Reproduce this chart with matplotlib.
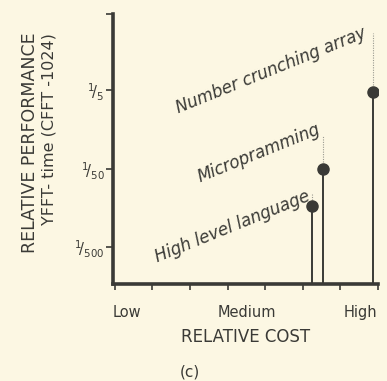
import numpy as np
import matplotlib
matplotlib.use("Agg")
import matplotlib.pyplot as plt

plt.rcParams['font.family'] = ['DejaVu Sans']
plt.rcParams['mathtext.fontset'] = 'dejavusans'

# approaches, position on the cost scale and relative FFT performance
approaches = ['High level language', 'Micropramming', 'Number crunching array']
cost = [5.25, 5.54, 6.87]
performance = [0.0066, 0.02, 0.19]

# where each approach is written (cost, performance) and top of its dotted leader
label_cost = [1.14, 2.26, 1.68]
label_perf = [0.00129, 0.0133, 0.102]
leader_top = [0.0097, 0.0526, 1.06]

perf_ticks = [1 / 500, 1 / 50, 1 / 5]
perf_ticklabels = [r'$^{1}\!/_{500}$', r'$^{1}\!/_{50}$', r'$^{1}\!/_{5}$']
cost_labels = ['Low', 'Medium', 'High']
cost_label_pos = [0.32, 3.5, 6.54]

bg = '#fcf7e3'
ink = '#3a3a36'

fig = plt.figure(figsize=(3.87, 3.81), dpi=100, facecolor=bg)
ax = fig.add_axes([0.292, 0.2546, 0.685, 0.7084], facecolor=bg)

ax.set_yscale('log')
ymin, ymax = 6.76e-4, 1.86
ax.set_ylim(ymin, ymax)
ax.set_xlim(-0.05, 7)

# stems and dots
ax.vlines(cost, ymin, performance, color=ink, linewidth=1.4, zorder=2)
ax.plot(cost, performance, 'o', color=ink, markersize=8, zorder=3)

# dotted leaders from label to dot
for c, p, t in zip(cost, performance, leader_top):
    ax.vlines(c, p * 1.22, t, color='#9a9a90', linewidth=0.8,
              linestyles=(0, (1, 1.2)), zorder=1)

for name, lc, lp in zip(approaches, label_cost, label_perf):
    ax.text(lc, lp, name, rotation=22, rotation_mode='anchor', ha='left',
            va='baseline', style='italic', fontsize=12, color=ink)

for side in ['top', 'right']:
    ax.spines[side].set_visible(False)
for side in ['left', 'bottom']:
    ax.spines[side].set_linewidth(2.6)
    ax.spines[side].set_color(ink)

ax.set_yticks(perf_ticks + [ymax], perf_ticklabels + [''])
ax.yaxis.set_minor_locator(matplotlib.ticker.NullLocator())
ax.tick_params(axis='y', which='major', length=5, width=1.2, color=ink,
               labelsize=10.5, labelcolor=ink, pad=1)

ax.set_xticks(range(8), [''] * 8)
ax.set_xticks(cost_label_pos, cost_labels, minor=True)
ax.tick_params(axis='x', which='major', length=4, width=1.2, color=ink)
ax.tick_params(axis='x', which='minor', length=0, labelsize=10.5,
               labelcolor=ink, pad=15)

ax.set_xlabel('RELATIVE COST', fontsize=12, color=ink, labelpad=6)

fig.text(0.078, 1 - 32 / 381, 'RELATIVE PERFORMANCE', rotation=90,
         ha='center', va='top', fontsize=12.5, color=ink)
fig.text(0.127, 1 - 33 / 381, 'YFFT- time (CFFT -1024)', rotation=90,
         ha='center', va='top', fontsize=11.5, color=ink)

fig.text(0.49, 1 - 372 / 381, '(c)', ha='center', va='center',
         fontsize=11, color=ink)

fig.savefig('out.png', dpi=100, facecolor=bg)
